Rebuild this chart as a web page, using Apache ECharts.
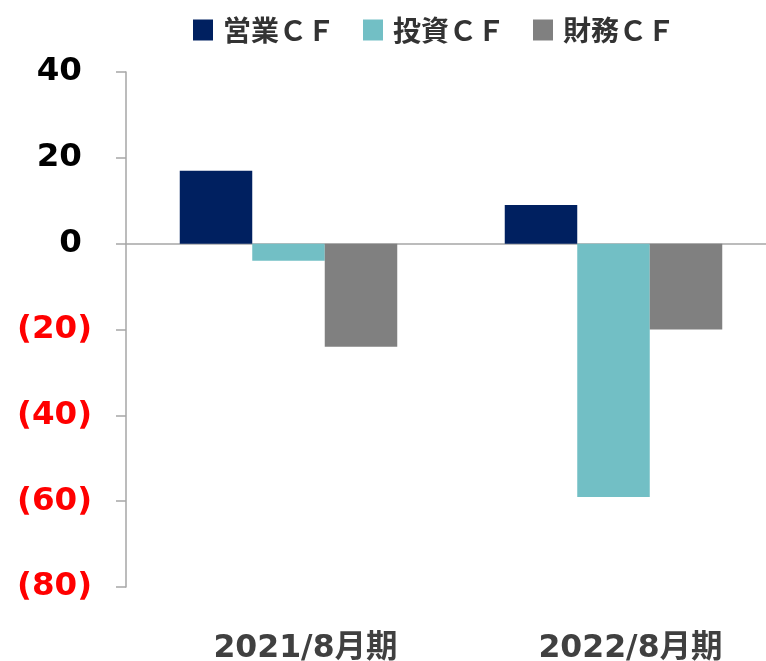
<!DOCTYPE html>
<html><head><meta charset="utf-8">
<script src="https://cdn.jsdelivr.net/npm/echarts@6/dist/echarts.min.js"></script>
<style>html,body{margin:0;padding:0;background:#fff;overflow:hidden}#c{width:776px;height:661px}</style>
</head><body><div id="c"></div>
<script>
const categories = ['2021/8月期', '2022/8月期'];
const seriesNames = ['営業ＣＦ', '投資ＣＦ', '財務ＣＦ'];
const operatingCF = [17, 9];
const investingCF = [-4, -59];
const financingCF = [-24, -20];
const yTicks = [-80, -60, -40, -20, 0, 20, 40];
const colors = ['#002060', '#72BFC5', '#808080'];

const chart = echarts.init(document.getElementById('c'));
const mk = (name, data, color) => ({
  name, type: 'bar', data, barWidth: 72.5, barGap: '0%',
  itemStyle: { color }
});
chart.setOption({
  animation: false,
  legend: {
    left: 188, top: 11, itemWidth: 20, itemHeight: 21, itemGap: 28,
    icon: 'rect',
    textStyle: { fontFamily: '"Noto Sans CJK JP"', fontWeight: 'bold', fontSize: 28, color: '#333', padding: [0, 0, 0, 5] },
    data: seriesNames
  },
  grid: { left: 126, top: 72, width: 650, height: 515, containLabel: false, outerBoundsMode: 'none' },
  xAxis: {
    type: 'category', data: categories,
    axisLine: { onZero: true, lineStyle: { color: '#a6a6a6', width: 1.5 } },
    axisTick: { show: false },
    axisLabel: {
      interval: 0, margin: 46,
      formatter: v => '{a|' + v + '}',
      rich: { a: { fontFamily: '"DejaVu Sans","Noto Sans CJK JP"', fontWeight: 'bold', fontSize: 31.5, color: '#404040', padding: [0, 0, 0, 34] } }
    },
    position: 'bottom'
  },
  yAxis: {
    type: 'value', min: yTicks[0], max: yTicks[yTicks.length - 1], interval: 20,
    splitLine: { show: false },
    axisLine: { show: true, lineStyle: { color: '#a6a6a6', width: 1.5 } },
    axisTick: { show: true, length: 10, lineStyle: { color: '#a6a6a6', width: 1.5 } },
    axisLabel: {
      margin: 34,
      formatter: v => v >= 0 ? '{p|' + v + '}{h|)}' : '{n|(' + (-v) + ')}',
      rich: {
        p: { fontFamily: '"DejaVu Sans"', fontWeight: 'bold', fontSize: 32.5, color: '#000' },
        h: { fontFamily: '"DejaVu Sans"', fontWeight: 'bold', fontSize: 22, color: 'rgba(0,0,0,0)' },
        n: { fontFamily: '"DejaVu Sans"', fontWeight: 'bold', fontSize: 32.5, color: '#ff0000' }
      }
    }
  },
  series: [
    mk(seriesNames[0], operatingCF, colors[0]),
    mk(seriesNames[1], investingCF, colors[1]),
    mk(seriesNames[2], financingCF, colors[2])
  ]
});
</script></body></html>
